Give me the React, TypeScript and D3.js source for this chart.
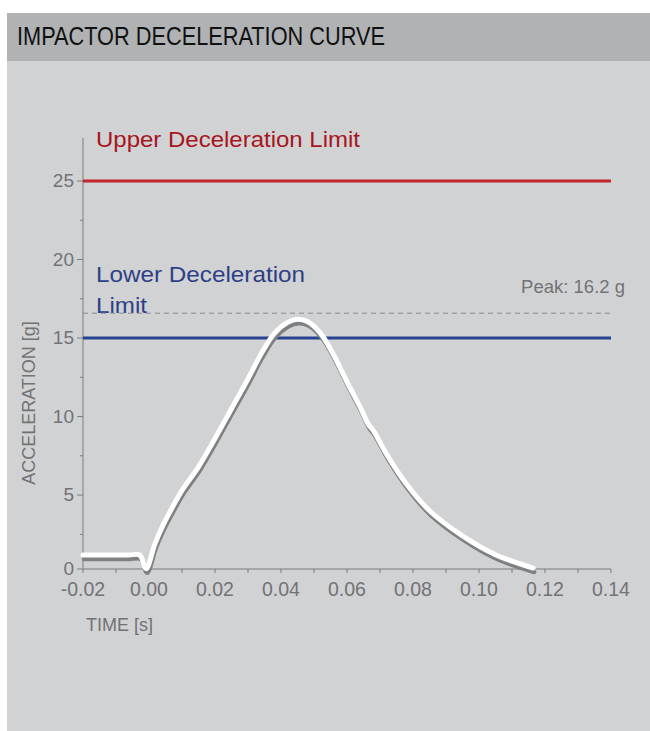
import React from "react";
import * as d3 from "d3";

// ---- data ----
const timeS = [-0.02, -0.015, -0.01, -0.006, -0.0028, -0.0009, 0.0018, 0.0043, 0.0073, 0.01, 0.015, 0.02, 0.025, 0.03, 0.034, 0.038, 0.042, 0.045, 0.048, 0.052, 0.056, 0.06, 0.064, 0.0665, 0.068, 0.072, 0.078, 0.085, 0.095, 0.105, 0.1164];
const accelG = [1.18, 1.18, 1.18, 1.18, 1.18, 0.3, 1.9, 3.1, 4.3, 5.3, 6.8, 8.6, 10.5, 12.4, 14.0, 15.3, 16.0, 16.2, 16.05, 15.3, 13.9, 12.2, 10.6, 9.5, 9.1, 7.6, 5.7, 4.0, 2.4, 1.2, 0.35];
const xTicks = [-0.02, 0, 0.02, 0.04, 0.06, 0.08, 0.1, 0.12, 0.14];
const xMinorTicks = [-0.01, 0.01, 0.03, 0.05, 0.07, 0.09, 0.11, 0.13];
const yTicks = [0, 5, 10, 15, 20, 25];
const yMinorTicks = [2.5, 7.5, 12.5, 17.5, 22.5];
const upperLimit = 25;
const lowerLimit = 15;
const peakValue = 16.2;
const title = "IMPACTOR DECELERATION CURVE";

const W = 650;
const H = 731;
const plot = { left: 83, right: 611, top: 138, bottom: 569 };

export default function App() {
  const x = d3.scaleLinear().domain([-0.02, 0.14]).range([plot.left, plot.right]);
  const y = d3
    .scaleLinear()
    .domain([0.29, 27.74])
    .range([plot.bottom, plot.top])
    .clamp(true);

  const pts = timeS.map((t, i) => [t, accelG[i]] as [number, number]);
  const line = d3
    .line<[number, number]>()
    .x((d) => x(d[0]))
    .y((d) => y(d[1]))
    .curve(d3.curveCatmullRom.alpha(0.5));
  const path = line(pts) || "";

  const gray = "#727375";
  const font = "'Liberation Sans', Arial, Helvetica, sans-serif";
  const fmt = (v: number) => d3.format(".2f")(v).replace("\u2212", "-");

  return (
    <svg
      width={W}
      height={H}
      style={{ position: "absolute", left: 0, top: 0, background: "#ffffff" }}
      fontFamily={font}
    >
      <rect x={7} y={13} width={W - 7} height={H - 13} fill="#d1d2d4" />
      <rect x={7} y={13} width={W - 7} height={48} fill="#b0b2b4" />
      <text x={17} y={45} fontSize={25.5} fill="#111" textLength={368} lengthAdjust="spacingAndGlyphs">
        {title}
      </text>

      {/* axes */}
      <line x1={plot.left} x2={plot.left} y1={plot.top} y2={plot.bottom} stroke="#7b7c7e" strokeWidth={1} />
      <line x1={plot.left} x2={plot.right} y1={plot.bottom} y2={plot.bottom} stroke="#7b7c7e" strokeWidth={1} />
      {yTicks.map((v) => (
        <g key={"yt" + v}>
          <line x1={plot.left - 6} x2={plot.left} y1={y(v)} y2={y(v)} stroke="#7b7c7e" />
          <text x={74} y={y(v)} dy="0.32em" textAnchor="end" fontSize={19} fill={gray}>
            {v}
          </text>
        </g>
      ))}
      {yMinorTicks.map((v) => (
        <line key={"ym" + v} x1={plot.left - 3} x2={plot.left} y1={y(v)} y2={y(v)} stroke="#7b7c7e" />
      ))}
      {xTicks.map((v) => (
        <g key={"xt" + v}>
          <line x1={x(v)} x2={x(v)} y1={plot.bottom} y2={plot.bottom + 4} stroke="#7b7c7e" />
          <text x={x(v)} y={596} textAnchor="middle" fontSize={19.5} fill={gray}>
            {fmt(v)}
          </text>
        </g>
      ))}
      {xMinorTicks.map((v) => (
        <line key={"xm" + v} x1={x(v)} x2={x(v)} y1={plot.bottom} y2={plot.bottom + 4} stroke="#7b7c7e" />
      ))}

      <text x={86} y={631} fontSize={18} fill={gray}>
        TIME [s]
      </text>
      <text transform={`translate(35, 403) rotate(-90)`} textAnchor="middle" fontSize={18} fill={gray}>
        ACCELERATION [g]
      </text>

      {/* limits */}
      <line x1={plot.left} x2={plot.right} y1={y(upperLimit)} y2={y(upperLimit)} stroke="#c4242c" strokeWidth={3} />
      <text x={96} y={147} fontSize={22} fill="#a8151d" textLength={264} lengthAdjust="spacingAndGlyphs">
        Upper Deceleration Limit
      </text>
      <line x1={plot.left} x2={plot.right} y1={y(lowerLimit)} y2={y(lowerLimit)} stroke="#27428f" strokeWidth={3} />
      <text x={96} y={282} fontSize={22} fill="#2e3f86" textLength={209} lengthAdjust="spacingAndGlyphs">
        Lower Deceleration
      </text>
      <text x={96} y={313} fontSize={22} fill="#2e3f86" textLength={51} lengthAdjust="spacingAndGlyphs">
        Limit
      </text>

      {/* peak marker */}
      <line
        x1={plot.left}
        x2={plot.right + 1}
        y1={y(peakValue) - 6}
        y2={y(peakValue) - 6}
        stroke="#8a8b8d"
        strokeWidth={1}
        strokeDasharray="5,4"
      />
      <text x={625} y={293} textAnchor="end" fontSize={18.5} fill={gray}>
        {`Peak: ${peakValue} g`}
      </text>

      {/* curve */}
      <path
        d={path}
        transform="translate(1,4)"
        fill="none"
        stroke="#7f8082"
        strokeWidth={4.5}
        strokeLinecap="round"
        strokeLinejoin="round"
      />
      <path d={path} fill="none" stroke="#ffffff" strokeWidth={5} strokeLinecap="round" strokeLinejoin="round" />
    </svg>
  );
}
